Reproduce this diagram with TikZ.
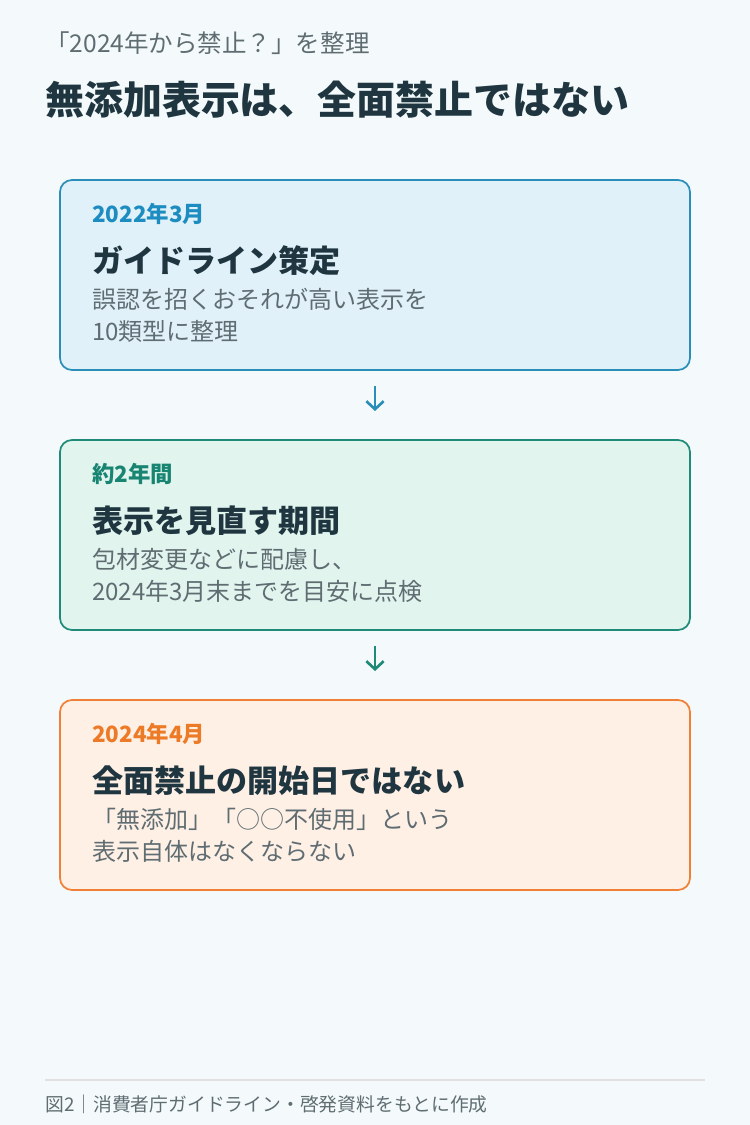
\documentclass[tikz,border=0pt]{standalone}
\usepackage{fontspec}
\setmainfont{Noto Sans CJK JP}
\usetikzlibrary{arrows.meta}
\definecolor{bg}{HTML}{F4FAFB}
\definecolor{ink}{HTML}{1F3640}
\definecolor{mute}{HTML}{5F6D72}
\definecolor{fa}{HTML}{E0F1F9}\definecolor{ba}{HTML}{2A8EB8}\definecolor{da}{HTML}{1D8CC0}
\definecolor{fb}{HTML}{E1F4EE}\definecolor{bb}{HTML}{1F8A78}\definecolor{db}{HTML}{178572}
\definecolor{fc}{HTML}{FFF0E6}\definecolor{bc}{HTML}{F08035}\definecolor{dc}{HTML}{EC7A26}
\begin{document}
\begin{tikzpicture}[x=0.75pt,y=-0.75pt,
 box/.style={draw=#1,line width=1.3pt,rounded corners=9pt},
 date/.style={anchor=west,inner sep=0,font=\fontsize{16.8}{18}\selectfont\bfseries,text=#1},
 head/.style={anchor=west,inner sep=0,font=\fontsize{23.3}{26}\selectfont\bfseries,text=ink},
 body/.style={anchor=north west,inner sep=0,align=left,font=\fontsize{18}{24}\selectfont,text=mute},
 arr/.style={draw=#1,line width=2pt,-{Straight Barb[length=6pt,width=13pt]}}]
\fill[bg] (0,0) rectangle (750,1125);
\useasboundingbox (0,0) rectangle (750,1125);
\node[anchor=west,inner sep=0,font=\fontsize{18.4}{20}\selectfont,text=mute] (sub) at (45,43) {「2024年から禁止？」を整理};
\node[anchor=west,inner sep=0,font=\fontsize{29.2}{32}\selectfont\bfseries,text=ink] (title) at (45,100) {無添加表示は、全面禁止ではない};
% box 1
\path[box=ba,fill=fa] (60,180) rectangle (690,370);
\node[date=da] (d1) at (92,214) {2022年3月};
\node[head] (h1) at (92,261) {ガイドライン策定};
\node[body] (t1) at (92,288) {誤認を招くおそれが高い表示を\\10類型に整理};
% box 2
\path[box=bb,fill=fb] (60,440) rectangle (690,630);
\node[date=db] (d2) at (92,474) {約2年間};
\node[head] (h2) at (92,521) {表示を見直す期間};
\node[body] (t2) at (92,548) {包材変更などに配慮し、\\2024年3月末までを目安に点検};
% box 3
\path[box=bc,fill=fc] (60,700) rectangle (690,890);
\node[date=dc] (d3) at (92,734) {2024年4月};
\node[head] (h3) at (92,781) {全面禁止の開始日ではない};
\node[body] (t3) at (92,808) {「無添加」「○○不使用」という\\表示自体はなくならない};
% arrows
\coordinate (a1s) at (375,386); \coordinate (a1e) at (375,411);
\coordinate (a2s) at (375,646); \coordinate (a2e) at (375,671);
\draw[arr=ba] (a1s) -- (a1e);
\draw[arr=bb] (a2s) -- (a2e);
% footer
\draw[draw=black!12,line width=0.8pt] (45,1080) -- (705,1080);
\node[anchor=west,inner sep=0,font=\fontsize{14.1}{16}\selectfont,text=mute] (foot) at (45,1104) {図2｜消費者庁ガイドライン・啓発資料をもとに作成};
\end{tikzpicture}
\end{document}
